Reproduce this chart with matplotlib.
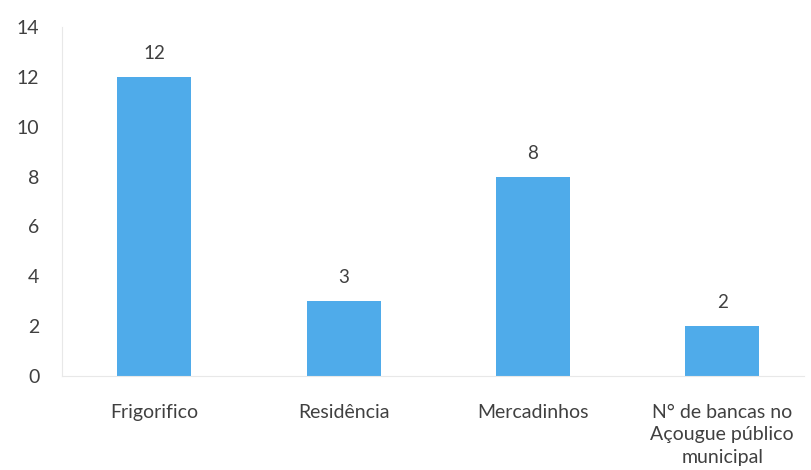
import matplotlib
matplotlib.use("Agg")
import matplotlib.pyplot as plt

categories = ["Frigorifico", "Residência", "Mercadinhos", "N° de bancas no\nAçougue público\nmunicipal"]
values = [12, 3, 8, 2]
yticks = [0, 2, 4, 6, 8, 10, 12, 14]

plt.rcParams['font.family'] = ['Lato', 'DejaVu Sans']
text_color = '#404040'

fig = plt.figure(figsize=(8.11, 4.70), dpi=100)
ax = fig.add_axes([0.076, 0.2, 0.915, 0.7426])
x = list(range(len(categories)))
bars = ax.bar(x, values, width=0.39, color='#4FABEA', edgecolor='none')
for xi, v in zip(x, values):
    ax.text(xi, v + 0.6, str(v), ha='center', va='bottom', fontsize=13.5,
            color=text_color)

ax.set_xlim(-0.49, 3.43)
ax.set_ylim(0, 14)
ax.set_yticks(yticks)
ax.set_xticks(x)
ax.set_xticklabels(categories, fontsize=14, color=text_color, linespacing=1.4)
ax.tick_params(axis='y', length=0, labelsize=14, labelcolor=text_color, pad=16)
ax.tick_params(axis='x', length=0, pad=20)
for s in ['top', 'right']:
    ax.spines[s].set_visible(False)
ax.spines['left'].set_color('#e8e8e8')
ax.spines['bottom'].set_color('#e8e8e8')

fig.savefig("out.png", dpi=100)
